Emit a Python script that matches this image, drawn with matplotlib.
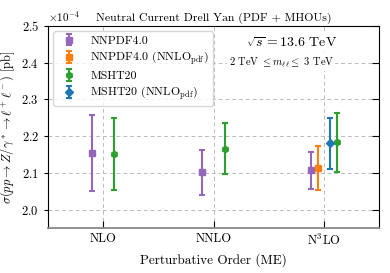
import numpy as np
import matplotlib
matplotlib.use("Agg")
import matplotlib.pyplot as plt

plt.rcParams["font.family"] = "serif"
plt.rcParams["font.serif"] = ["cmr10"]
plt.rcParams["mathtext.fontset"] = "cm"
plt.rcParams["axes.formatter.use_mathtext"] = True

orders = ["NLO", "NNLO", r"N$^3$LO"]

# cross sections in units of 1e-4 pb: central, lower, upper
nnpdf_x = [0, 1, 2]
nnpdf_c = [2.154, 2.102, 2.108]
nnpdf_lo = [2.051, 2.040, 2.057]
nnpdf_hi = [2.257, 2.163, 2.156]

nnpdf_nnlo_x = [2]
nnpdf_nnlo_c = [2.114]
nnpdf_nnlo_lo = [2.054]
nnpdf_nnlo_hi = [2.173]

msht_x = [0, 1, 2]
msht_c = [2.151, 2.166, 2.183]
msht_lo = [2.053, 2.097, 2.102]
msht_hi = [2.250, 2.236, 2.263]

msht_nnlo_x = [2]
msht_nnlo_c = [2.180]
msht_nnlo_lo = [2.111]
msht_nnlo_hi = [2.248]

series = [
    ("NNPDF4.0", nnpdf_x, nnpdf_c, nnpdf_lo, nnpdf_hi, "#9467bd", "s", [-0.1, -0.1, -0.12]),
    (r"NNPDF4.0 (NNLO$_{\rm pdf}$)", nnpdf_nnlo_x, nnpdf_nnlo_c, nnpdf_nnlo_lo, nnpdf_nnlo_hi, "#ff7f0e", "s", [-0.05]),
    ("MSHT20", msht_x, msht_c, msht_lo, msht_hi, "#2ca02c", "h", [0.1, 0.1, 0.12]),
    (r"MSHT20 (NNLO$_{\rm pdf}$)", msht_nnlo_x, msht_nnlo_c, msht_nnlo_lo, msht_nnlo_hi, "#1f77b4", "D", [0.055]),
]

fig = plt.figure(figsize=(3.9, 2.73), dpi=100)
ax = fig.add_axes([0.123, 0.165, 0.849, 0.74])

for label, xs, c, lo, hi, col, mk, off in series:
    xs = np.array(xs) + np.array(off)
    c = np.array(c) * 1e-4
    lo = np.array(lo) * 1e-4
    hi = np.array(hi) * 1e-4
    ax.errorbar(xs, c, yerr=[c - lo, hi - c], fmt=mk, color=col, ms=4.5,
                capsize=2.5, elinewidth=1.5, capthick=1.5, label=label)

ax.set_xlim(-0.5, 2.5)
ax.set_ylim(1.95e-4, 2.5e-4)
ax.set_xticks([0, 1, 2])
ax.set_xticklabels(orders)
ax.set_yticks(np.arange(2.0, 2.51, 0.1) * 1e-4)
ax.ticklabel_format(style="sci", axis="y", scilimits=(0, 0))
ax.grid(True, ls=(0, (4, 3)), color="#bbbbbb", lw=0.7)
ax.set_axisbelow(True)

ax.tick_params(axis="x", direction="in", length=5, labelsize=9)
ax.tick_params(axis="y", direction="out", length=3, labelsize=9)
ax.tick_params(axis="y", which="major", right=True)
for t in ax.yaxis.get_major_ticks():
    t.tick2line.set_marker(matplotlib.lines.TICKLEFT)
    t.tick2line.set_markersize(5)
ax.yaxis.get_offset_text().set_fontsize(8)
ax.spines["bottom"].set_color("#888888")
ax.spines["bottom"].set_linewidth(1.3)

ax.set_title("Neutral Current Drell Yan (PDF + MHOUs)", fontsize=8.5, pad=4)
ax.set_xlabel("Perturbative Order (ME)", fontsize=9.5)
ax.set_ylabel(r"$\sigma(pp \to Z/\gamma^* \to \ell^+\ell^-)$ [pb]", fontsize=9, labelpad=3)

ax.text(0.736, 0.917, r"$\sqrt{s} = 13.6$ TeV", transform=ax.transAxes,
        ha="center", va="center", fontsize=10,
        bbox=dict(facecolor="white", edgecolor="none", pad=1))
ax.text(0.705, 0.818, r"2 TeV $\leq m_{\ell\ell} \leq$ 3 TeV", transform=ax.transAxes,
        ha="center", va="center", fontsize=7.5,
        bbox=dict(facecolor="white", edgecolor="none", pad=1))

ax.legend(loc="upper left", fontsize=8.5, handlelength=2.0, labelspacing=0.35,
          borderaxespad=0.45, handletextpad=0.8, borderpad=0.35)

fig.savefig("out.png", dpi=100)
